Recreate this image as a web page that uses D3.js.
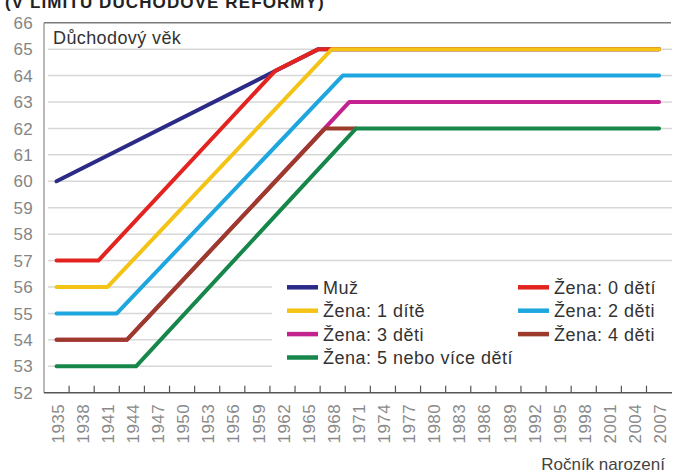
<!DOCTYPE html>
<html>
<head>
<meta charset="utf-8">
<script src="https://cdn.jsdelivr.net/npm/d3@7"></script>
<style>
body { margin: 0; background: #fff; }
svg { display: block; font-family: "Liberation Sans", Arial, sans-serif; }
</style>
</head>
<body>
<svg id="chart" width="673" height="475"></svg>
<script>
// data: [year of birth, retirement age]
const muz    = [[1935, 60], [1966.3, 65], [2007, 65]];
const zena0  = [[1935, 57], [1940, 57], [1961.1, 64.17], [1966.3, 65], [2007, 65]];
const zena1  = [[1935, 56], [1941.1, 56], [1967.9, 65], [2007, 65]];
const zena2  = [[1935, 55], [1942.2, 55], [1969.2, 64], [2007, 64]];
const zena3  = [[1935, 54], [1943.4, 54], [1970.0, 63], [2007, 63]];
const zena4  = [[1935, 54], [1943.4, 54], [1967.1, 62], [1970.8, 62]];
const zena5  = [[1935, 53], [1944.5, 53], [1970.8, 62], [2007, 62]];

const seriesNames = ['Muž', 'Žena: 0 dětí', 'Žena: 1 dítě', 'Žena: 2 děti', 'Žena: 3 děti', 'Žena: 4 děti', 'Žena: 5 nebo více dětí'];
const seriesColors = ['#2b2a86', '#e2231f', '#f3c316', '#1ea6df', '#c4228e', '#9c3b2a', '#16864a'];
const seriesData = [muz, zena0, zena1, zena2, zena3, zena4, zena5];

const yTicks = [52, 53, 54, 55, 56, 57, 58, 59, 60, 61, 62, 63, 64, 65, 66];
const xLabels = [1935, 1938, 1941, 1944, 1947, 1950, 1953, 1956, 1959, 1962, 1965, 1968, 1971,
                 1974, 1977, 1980, 1983, 1986, 1989, 1992, 1995, 1998, 2001, 2004, 2007];

const svg = d3.select('#chart');

const x = d3.scaleLinear().domain([1933.5, 2008.5]).range([44, 671.6]);
const y = d3.scaleLinear().domain([52, 66]).range([392.7, 22.7]);

//title, cut off at top like in the scan
svg.append('text')
    .attr('x', 5).attr('y', 8)
    .attr('font-size', 17).attr('font-weight', 'bold')
    .attr('letter-spacing', 1.1)
    .attr('fill', '#222')
    .text('(V LIMITU DŮCHODOVÉ REFORMY)');

//grid lines
svg.append('g')
    .selectAll('line')
    .data(yTicks.filter(d => d > 52 && d < 66))
    .enter()
    .append('line')
    .attr('x1', 48).attr('x2', 672)
    .attr('y1', d => y(d)).attr('y2', d => y(d))
    .attr('stroke', '#d7d7d7')
    .attr('stroke-width', 1.5);

//frame top + left
svg.append('line').attr('x1', 44).attr('x2', 671).attr('y1', y(66)).attr('y2', y(66))
    .attr('stroke', '#7a7a7a').attr('stroke-width', 1.5);
svg.append('line').attr('x1', 44).attr('x2', 44).attr('y1', y(66)).attr('y2', y(52))
    .attr('stroke', '#8a8a8a').attr('stroke-width', 1.2);

//y labels
svg.append('g')
    .selectAll('text')
    .data(yTicks)
    .enter()
    .append('text')
    .attr('x', 33)
    .attr('y', d => y(d))
    .attr('dy', '0.36em')
    .attr('text-anchor', 'end')
    .attr('font-size', 17)
    .attr('letter-spacing', 0.3)
    .attr('fill', '#858585')
    .text(d => d);

//x axis line and inside ticks
svg.append('line').attr('x1', 44).attr('x2', 672).attr('y1', y(52)).attr('y2', y(52))
    .attr('stroke', '#555').attr('stroke-width', 1.6);
svg.append('g')
    .selectAll('line')
    .data(xLabels.slice(0, -1))
    .enter()
    .append('line')
    .attr('x1', d => x(d + 1.5)).attr('x2', d => x(d + 1.5))
    .attr('y1', y(52)).attr('y2', y(52) - 7)
    .attr('stroke', '#555').attr('stroke-width', 1.2);

//x labels, rotated
svg.append('g')
    .selectAll('text')
    .data(xLabels)
    .enter()
    .append('text')
    .attr('transform', d => 'translate(' + (x(d) + 1) + ',404) rotate(-90)')
    .attr('dy', '0.36em')
    .attr('text-anchor', 'end')
    .attr('font-size', 17)
    .attr('letter-spacing', 0.4)
    .attr('fill', '#8a8a8a')
    .text(d => d);

svg.append('text')
    .attr('x', 665).attr('y', 470)
    .attr('text-anchor', 'end')
    .attr('font-size', 17)
    .attr('fill', '#444')
    .text('Ročník narození');

svg.append('text')
    .attr('x', 53).attr('y', 44)
    .attr('font-size', 18)
    .attr('letter-spacing', 0.4)
    .attr('fill', '#333')
    .text('Důchodový věk');

//lines
const line = d3.line().x(d => x(d[0])).y(d => y(d[1]));
svg.append('g')
    .selectAll('path')
    .data(seriesData)
    .enter()
    .append('path')
    .attr('d', line)
    .attr('fill', 'none')
    .attr('stroke', (d, i) => seriesColors[i])
    .attr('stroke-width', 4)
    .attr('stroke-linejoin', 'round')
    .attr('stroke-linecap', 'round');

//legend
svg.append('rect')
    .attr('x', 272).attr('y', 272).attr('width', 400).attr('height', 102)
    .attr('fill', '#fff');

const legendPos = [[0, 0], [1, 0], [0, 1], [1, 1], [0, 2], [1, 2], [0, 3]];
const leg = svg.append('g')
    .selectAll('g')
    .data(seriesNames)
    .enter()
    .append('g')
    .attr('transform', (d, i) => 'translate(' + (legendPos[i][0] ? 518 : 287) + ',' + (287.3 + legendPos[i][1] * 23.4) + ')');

leg.append('line')
    .attr('x1', 0).attr('x2', 31)
    .attr('stroke', (d, i) => seriesColors[i])
    .attr('stroke-width', 4.5);

leg.append('text')
    .attr('x', 36)
    .attr('dy', '0.36em')
    .attr('font-size', 18)
    .attr('letter-spacing', 0.5)
    .attr('fill', '#333')
    .text(d => d);
</script>
</body>
</html>
